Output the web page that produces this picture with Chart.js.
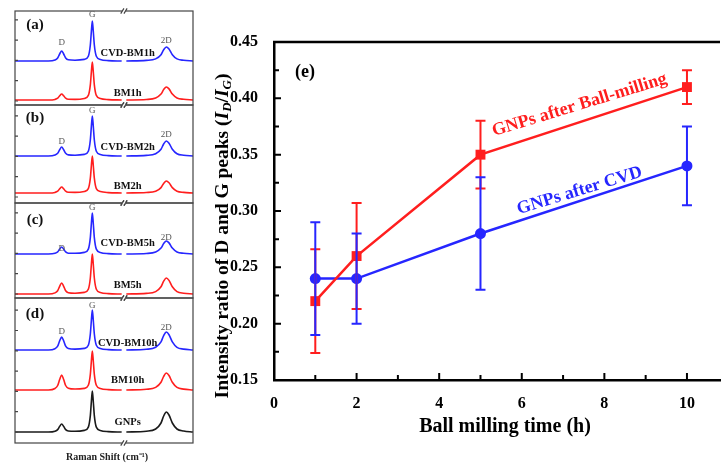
<!DOCTYPE html>
<html>
<head>
<meta charset="utf-8">
<script src="https://cdn.jsdelivr.net/npm/chart.js@4.4.0/dist/chart.umd.min.js"></script>
<style>
html, body { margin: 0; padding: 0; background: #fff; overflow: hidden; }
#wrap { position: relative; width: 727px; height: 464px; }
canvas { position: absolute; }
#ramanLabel { position: absolute; left: 0; width: 214px; top: 449px; text-align: center;
  font: bold 10px "Liberation Serif", serif; color: #222; }
</style>
</head>
<body>
<div id="wrap">
  <canvas id="pa" width="186" height="102" style="left:11px;top:7px"></canvas>
  <canvas id="pb" width="186" height="106" style="left:11px;top:101px"></canvas>
  <canvas id="pc" width="186" height="103" style="left:11px;top:199px"></canvas>
  <canvas id="pd" width="186" height="153" style="left:11px;top:294px"></canvas>
  <canvas id="ratioChart" width="522" height="464" style="left:205px;top:0"></canvas>
  <div id="ramanLabel">Raman Shift (cm⁻¹)</div>
</div>
<script>
// ---- Raman spectra (left), intensity above each trace's baseline ----
const ramanShift = [1000, 1250, 1300, 1320, 1335, 1350, 1365, 1380, 1400, 1450, 1520, 1550, 1565, 1573, 1580, 1587,
                    1595, 1610, 1640, 1700, 1800, 2400, 2550, 2620, 2660, 2680, 2700, 2720, 2745, 2780, 2830, 2900];
const cvdBm1h  = [0, 0, 1, 3, 7, 10, 7, 3, 1.2, 0.8, 1.6, 4.8, 16, 30, 40, 30, 16, 4.8, 1.6, 0.4, 0, 0, 0.6, 2.1, 6.3, 11.2, 14, 11.9, 6.3, 2.1, 0.7, 0];
const bm1h     = [0, 0, 0.6, 1.8, 4.2, 6, 4.2, 1.8, 0.7, 0.6, 1.5, 4.6, 15.2, 28.5, 38, 28.5, 15.2, 4.6, 1.5, 0.4, 0, 0, 0.5, 2, 5.9, 10.4, 13, 11.1, 5.9, 2, 0.7, 0];
const cvdBm2h  = [0, 0, 0.9, 2.7, 6.3, 9, 6.3, 2.7, 1.1, 0.8, 1.6, 4.8, 16, 30, 40, 30, 16, 4.8, 1.6, 0.4, 0, 0, 0.6, 2.3, 6.8, 12, 15, 12.8, 6.8, 2.3, 0.8, 0];
const bm2h     = [0, 0, 0.6, 1.8, 4.2, 6, 4.2, 1.8, 0.7, 0.6, 1.5, 4.4, 14.8, 27.8, 37, 27.8, 14.8, 4.4, 1.5, 0.4, 0, 0, 0.5, 1.8, 5.4, 9.6, 12, 10.2, 5.4, 1.8, 0.6, 0];
const cvdBm5h  = [0, 0, 0.7, 2.1, 4.9, 7, 4.9, 2.1, 0.8, 0.7, 1.6, 4.9, 16.4, 30.8, 41, 30.8, 16.4, 4.9, 1.6, 0.4, 0, 0, 0.5, 2, 5.9, 10.4, 13, 11.1, 5.9, 2, 0.7, 0];
const bm5h     = [0, 0, 1.1, 3.3, 7.7, 11, 7.7, 3.3, 1.3, 0.8, 1.6, 4.8, 16, 30, 40, 30, 16, 4.8, 1.6, 0.4, 0, 0, 0.6, 2.4, 7.2, 12.8, 16, 13.6, 7.2, 2.4, 0.8, 0];
const cvdBm10h = [0, 0, 1.3, 3.9, 9.1, 13, 9.1, 3.9, 1.6, 0.9, 1.6, 4.8, 16, 30, 40, 30, 16, 4.8, 1.6, 0.4, 0, 0, 0.7, 2.7, 8.1, 14.4, 18, 15.3, 8.1, 2.7, 0.9, 0];
const bm10h    = [0, 0, 1.5, 4.5, 10.5, 15, 10.5, 4.5, 1.8, 1, 1.6, 4.7, 15.6, 29.3, 39, 29.3, 15.6, 4.7, 1.6, 0.4, 0, 0, 0.7, 2.6, 7.7, 13.6, 17, 14.5, 7.7, 2.6, 0.9, 0];
const gnps     = [0, 0, 0.8, 2.4, 5.6, 8, 5.6, 2.4, 1, 0.7, 1.6, 4.9, 16.4, 30.8, 41, 30.8, 16.4, 4.9, 1.6, 0.4, 0, 0, 0.8, 3, 9, 16, 20, 17, 9, 3, 1, 0];

// ---- I_D/I_G ratio (right) ----
const millTime = [1, 2, 5, 10];
const ballMilled = [0.22, 0.26, 0.35, 0.41];
const ballMilledErr = [0.046, 0.047, 0.03, 0.015];
const afterCvd = [0.24, 0.24, 0.28, 0.34];
const afterCvdErr = [0.05, 0.04, 0.05, 0.035];
const xTicks = [0, 2, 4, 6, 8, 10];
const yTicks = [0.15, 0.20, 0.25, 0.30, 0.35, 0.40, 0.45];

const BLUE = '#2626ff', RED = '#ff1e1e', BLACK = '#1a1a1a';
const SERIF = '"Liberation Serif", "Times New Roman", serif';
const BREAK_AT = 1817;

// broken axis: the 1800..2400 range is cut out
const toPlotX = x => (x < 2000 ? x : x - 565);

const spectrumPoints = (values, base) => {
    const pts = [];
    ramanShift.forEach((x, i) => {
        if (i > 0 && ramanShift[i - 1] < 2000 && x >= 2000) pts.push({ x: 1810, y: null });
        pts.push({ x: toPlotX(x), y: values[i] + base });
    });
    return pts;
};

const panels = [
    { id: 'pa', h: 94, tag: '(a)', tagY: 80, tickStart: 4,
      traces: [{ v: cvdBm1h, c: BLUE, base: 44, name: 'CVD-BM1h', ly: 52 }, { v: bm1h, c: RED, base: 5, name: 'BM1h', ly: 12 }],
      peaks: [62, 90, 64] },
    { id: 'pb', h: 98, tag: '(b)', tagY: 85, tickStart: 6,
      traces: [{ v: cvdBm2h, c: BLUE, base: 47, name: 'CVD-BM2h', ly: 56 }, { v: bm2h, c: RED, base: 10, name: 'BM2h', ly: 17 }],
      peaks: [61, 92, 68] },
    { id: 'pc', h: 95, tag: '(c)', tagY: 78, tickStart: 4,
      traces: [{ v: cvdBm5h, c: BLUE, base: 44, name: 'CVD-BM5h', ly: 55 }, { v: bm5h, c: RED, base: 4, name: 'BM5h', ly: 13 }],
      peaks: [49, 90, 60] },
    { id: 'pd', h: 145, tag: '(d)', tagY: 129, tickStart: 11,
      traces: [{ v: cvdBm10h, c: BLUE, base: 93, name: 'CVD-BM10h', ly: 100 },
               { v: bm10h, c: RED, base: 53, name: 'BM10h', ly: 63 },
               { v: gnps, c: BLACK, base: 11, name: 'GNPs', ly: 21 }],
      peaks: [111, 137, 115] }
];

const panelDecor = {
    id: 'panelDecor',
    afterDraw(chart, args, opts) {
        const { ctx, chartArea: a, scales: { x, y } } = chart;
        ctx.save();
        ctx.strokeStyle = '#444';
        ctx.lineWidth = 1.2;
        ctx.strokeRect(a.left, a.top, a.width, a.height);
        ctx.beginPath();
        for (let v = opts.tickStart; v < y.max - 2; v += 20.3) {
            const py = y.getPixelForValue(v);
            ctx.moveTo(a.left, py); ctx.lineTo(a.left + 3, py);
        }
        ctx.stroke();
        // break marks
        const bx = x.getPixelForValue(BREAK_AT);
        ctx.fillStyle = '#fff';
        [a.top, a.bottom].forEach(py => ctx.fillRect(bx - 2, py - 1, 4, 2));
        ctx.beginPath();
        [a.top, a.bottom].forEach(py => {
            [-1.6, 1.6].forEach(dx => { ctx.moveTo(bx + dx - 1.6, py + 2.6); ctx.lineTo(bx + dx + 1.6, py - 2.6); });
        });
        ctx.stroke();
        // texts
        ctx.textAlign = 'center';
        ctx.textBaseline = 'middle';
        ctx.fillStyle = '#111';
        ctx.font = 'bold 15px ' + SERIF;
        ctx.fillText(opts.tag, x.getPixelForValue(1150), y.getPixelForValue(opts.tagY));
        ctx.font = 'bold 10.5px ' + SERIF;
        opts.traces.forEach(t => ctx.fillText(t.name, x.getPixelForValue(1845), y.getPixelForValue(t.ly)));
        ctx.font = '9px ' + SERIF;
        ctx.fillStyle = '#555';
        ['D', 'G', '2D'].forEach((p, i) => {
            const px = x.getPixelForValue(toPlotX([1350, 1580, 2700][i]));
            ctx.fillText(p, px, y.getPixelForValue(opts.peaks[i]));
        });
        ctx.restore();
    }
};

panels.forEach(p => {
    new Chart(document.getElementById(p.id), {
        type: 'line',
        data: {
            datasets: p.traces.map(t => ({
                data: spectrumPoints(t.v, t.base),
                borderColor: t.c,
                borderWidth: 1.6,
                pointRadius: 0,
                cubicInterpolationMode: 'monotone',
                spanGaps: false
            }))
        },
        options: {
            responsive: false,
            animation: false,
            layout: { padding: 4 },
            scales: {
                x: { type: 'linear', min: 1000, max: 2335, display: false },
                y: { min: 0, max: p.h, display: false }
            },
            plugins: {
                legend: { display: false },
                tooltip: { enabled: false },
                panelDecor: p
            }
        },
        plugins: [panelDecor]
    });
});

// ---- right chart helpers ----
const errorBars = {
    id: 'errorBars',
    afterDatasetsDraw(chart) {
        const { ctx, scales: { x, y } } = chart;
        ctx.save();
        ctx.lineWidth = 2;
        chart.data.datasets.forEach(ds => {
            ctx.strokeStyle = ds.borderColor;
            ctx.beginPath();
            ds.data.forEach((pt, i) => {
                const px = x.getPixelForValue(pt.x);
                const top = y.getPixelForValue(pt.y + ds.err[i]);
                const bot = y.getPixelForValue(pt.y - ds.err[i]);
                ctx.moveTo(px, top); ctx.lineTo(px, bot);
                ctx.moveTo(px - 5, top); ctx.lineTo(px + 5, top);
                ctx.moveTo(px - 5, bot); ctx.lineTo(px + 5, bot);
            });
            ctx.stroke();
        });
        ctx.restore();
    }
};

const decor = {
    id: 'decor',
    afterDraw(chart) {
        const { ctx, chartArea: a, scales: { x, y } } = chart;
        ctx.save();
        ctx.strokeStyle = '#000';
        ctx.lineWidth = 2.5;
        ctx.beginPath();
        ctx.moveTo(a.left - 1, a.top); ctx.lineTo(a.right, a.top);
        ctx.stroke();
        ctx.lineWidth = 2;
        ctx.beginPath();
        for (let v = 0.15; v <= 0.4501; v += 0.025) {
            const py = y.getPixelForValue(v);
            const len = Math.abs((v * 20) - Math.round(v * 20)) < 0.01 ? 7 : 5;
            ctx.moveTo(a.left, py); ctx.lineTo(a.left + len, py);
        }
        for (let v = 0; v <= 10; v++) {
            const px = x.getPixelForValue(v);
            ctx.moveTo(px, a.bottom); ctx.lineTo(px, a.bottom - (v % 2 ? 5 : 7));
        }
        ctx.stroke();

        ctx.fillStyle = '#000';
        ctx.textAlign = 'center';
        ctx.textBaseline = 'middle';
        ctx.font = 'bold 18px ' + SERIF;
        ctx.fillText('(e)', a.left + 31, a.top + 30);

        // x title
        ctx.font = 'bold 20px ' + SERIF;
        ctx.fillText('Ball milling time (h)', 300, 427);

        // y title with subscripts
        ctx.save();
        ctx.translate(18, 236);
        ctx.rotate(-Math.PI / 2);
        const big = 'bold 19.5px ' + SERIF, it = 'italic bold 19.5px ' + SERIF, sub = 'italic bold 13px ' + SERIF;
        const parts = [
            { t: 'Intensity ratio of D and G peaks (', f: big }, { t: 'I', f: it }, { t: 'D', f: sub, dy: 5 },
            { t: '/', f: big }, { t: 'I', f: it }, { t: 'G', f: sub, dy: 5 }, { t: ')', f: big }
        ];
        let w = 0;
        parts.forEach(p => { ctx.font = p.f; p.w = ctx.measureText(p.t).width; w += p.w; });
        let cx = -w / 2;
        ctx.textAlign = 'left';
        parts.forEach(p => { ctx.font = p.f; ctx.fillText(p.t, cx, p.dy || 0); cx += p.w; });
        ctx.restore();

        // series labels along the lines
        const angleOf = ds => {
            const d = ds.data;
            const dx = x.getPixelForValue(d[3].x) - x.getPixelForValue(d[2].x);
            const dy = y.getPixelForValue(d[3].y) - y.getPixelForValue(d[2].y);
            return Math.atan2(dy, dx);
        };
        [[0, 'GNPs after Ball-milling', 0.394], [1, 'GNPs after CVD', 0.318]].forEach(([k, text, yv]) => {
            const ds = chart.data.datasets[k];
            ctx.save();
            ctx.translate(x.getPixelForValue(7.4), y.getPixelForValue(yv));
            ctx.rotate(angleOf(ds) + 0.02);
            ctx.fillStyle = ds.borderColor;
            ctx.font = 'bold 18px ' + SERIF;
            ctx.textAlign = 'center';
            ctx.fillText(text, 0, 0);
            ctx.restore();
        });
        ctx.restore();
    }
};

const tickFont = { family: SERIF, size: 16, weight: 'bold' };

new Chart(document.getElementById('ratioChart'), {
    type: 'line',
    data: {
        datasets: [{
            data: millTime.map((x, i) => ({ x, y: ballMilled[i] })),
            err: ballMilledErr,
            borderColor: RED,
            backgroundColor: RED,
            borderWidth: 2.5,
            pointStyle: 'rect',
            pointRadius: 7,
            pointBorderWidth: 0
        }, {
            data: millTime.map((x, i) => ({ x, y: afterCvd[i] })),
            err: afterCvdErr,
            borderColor: BLUE,
            backgroundColor: BLUE,
            borderWidth: 2.5,
            pointStyle: 'circle',
            pointRadius: 5.5,
            pointBorderWidth: 0
        }]
    },
    options: {
        responsive: false,
        animation: false,
        layout: { padding: { top: 42, right: 0, left: 0, bottom: 0 } },
        scales: {
            x: {
                type: 'linear', min: 0, max: 10.8,
                afterBuildTicks: s => { s.ticks = xTicks.map(v => ({ value: v })); },
                afterFit: s => { s.height = 84; },
                grid: { display: false },
                border: { display: true, color: '#000', width: 2.5 },
                ticks: { font: tickFont, color: '#000', padding: 6, maxRotation: 0 }
            },
            y: {
                min: 0.15, max: 0.45,
                afterBuildTicks: s => { s.ticks = yTicks.map(v => ({ value: v })); },
                afterFit: s => { s.width = 69; },
                grid: { display: false },
                border: { display: true, color: '#000', width: 2.5 },
                ticks: { font: tickFont, color: '#000', padding: 8, callback: v => v.toFixed(2) }
            }
        },
        plugins: { legend: { display: false }, tooltip: { enabled: false } }
    },
    plugins: [errorBars, decor]
});
</script>
</body>
</html>
